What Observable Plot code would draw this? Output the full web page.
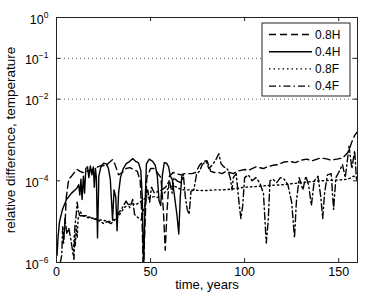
<!DOCTYPE html>
<html><head><meta charset="utf-8">
<script src="https://cdn.jsdelivr.net/npm/d3@7"></script>
<script src="https://cdn.jsdelivr.net/npm/@observablehq/plot@0.6"></script>
<style>
body{margin:0;background:#fff}
svg{font-family:"Liberation Sans",Arial,Helvetica,sans-serif}
</style>
</head><body><div id="chart"></div><script>
// series names (legend order)
const seriesNames = ["0.8H", "0.4H", "0.8F", "0.4F"];
// [time (years), relative difference]
const s08H = [[3.5,3e-6],[4.5,8e-6],[5.2,4e-5],[6.5,1.1e-4],[8,1.3e-4],[9.5,1.6e-4],[11,1.9e-4],[12.5,1.7e-4],[14,1.6e-4],[16,1.7e-4],[18,1.8e-4],[20,2e-4],[22,2.2e-4],[24,2.4e-4],[26,2.3e-4],[28,2.8e-4],[29.8,3.3e-4],[31,2.6e-4],[33,1.4e-4],[35,1.6e-4],[37,2e-4],[39,2.1e-4],[41,1.9e-4],[43,1.7e-4],[44.5,1e-4],[45.5,1e-5],[46.2,5e-7],[47,8e-6],[48,1.2e-4],[50,2e-4],[52,2e-4],[54,1.5e-4],[55.5,1.2e-4],[56.8,2e-5],[57.8,2e-6],[58.8,2e-5],[60,1.3e-4],[62,1.6e-4],[64,1.5e-4],[66,1.4e-4],[68,1.5e-4],[70,1.5e-4],[72,1.5e-4],[74,1.6e-4],[76,2.4e-4],[78,3e-4],[80,3.1e-4],[82,1.7e-4],[84,1.6e-4],[86,1.6e-4],[88,1.5e-4],[90,1.7e-4],[92,1.6e-4],[94,1.5e-4],[96,1.7e-4],[98,1.8e-4],[100,1.9e-4],[102,1.8e-4],[104,2e-4],[106,2.2e-4],[108,2.1e-4],[110,2e-4],[112,2.2e-4],[115,2.4e-4],[118,2.5e-4],[121,2.9e-4],[124,3e-4],[127,2.8e-4],[130,3.2e-4],[133,3.4e-4],[136,3.1e-4],[140,3.6e-4],[143,3.5e-4],[146,3.2e-4],[149,3.4e-4],[152,3.6e-4],[155,5e-4],[157,9e-4],[158.5,1.3e-3],[160,1.6e-3]];
const s04H = [[0.3,1.5e-6],[0.8,4e-6],[1.6,1e-5],[3.2,2e-5],[5.3,3.5e-5],[8,5e-5],[10.7,6.5e-5],[11.8,8e-5],[12.4,4.5e-5],[13,1.1e-4],[13.6,3.5e-5],[14.3,1.3e-4],[14.9,5e-5],[15.6,2e-4],[16.5,2.2e-4],[17.2,1.2e-4],[18,2.3e-4],[18.8,1.4e-4],[19.6,2.2e-4],[20.1,7e-5],[20.7,2e-4],[21.2,1.2e-4],[21.8,4e-6],[22.5,1.3e-4],[23.5,2.1e-4],[25,2.7e-4],[26.5,2.6e-4],[27.6,2e-4],[28.6,1.1e-4],[29.8,1.1e-5],[30.6,6e-5],[31.5,4e-5],[32.2,6e-6],[33,5e-5],[34,1.2e-4],[35.5,2e-4],[37,2.6e-4],[38.5,2.9e-4],[40.5,3.5e-4],[42,3e-4],[43.5,2.8e-4],[44.8,1.8e-4],[45.6,4e-5],[46.3,7e-7],[47,2e-5],[47.8,2.6e-4],[49.3,3.4e-4],[51.1,3e-4],[52.5,2.4e-4],[53.6,1.3e-4],[54.5,3.3e-5],[55.4,2.5e-5],[56.3,1.4e-4],[57.3,2.8e-4],[58.5,2.7e-4],[59.6,2.2e-4],[60.5,1.3e-4],[61.5,1.1e-4],[62.8,4e-5],[64,1.5e-5],[65,5e-6],[65.8,4e-5],[66.6,1.3e-4],[67.5,1.4e-4]];
const s08F = [[9,1.5e-6],[9.5,5e-6],[10,2.5e-6],[10.5,8e-6],[11,4e-6],[11.5,1.2e-5],[12.5,1.8e-5],[14,1.4e-5],[16,1.3e-5],[18,1.2e-5],[20,1.25e-5],[22,1.1e-5],[24,1.1e-5],[26,1.05e-5],[28,1e-5],[30,1.1e-5],[32,1.2e-5],[34,1.6e-5],[36,2.2e-5],[38,2.6e-5],[40,2.8e-5],[42,2.6e-5],[44,2.9e-5],[46,3.5e-5],[48,3.8e-5],[50,4e-5],[52,4.1e-5],[54,3.9e-5],[56,4.2e-5],[58,5.5e-5],[60,7e-5],[62,7.5e-5],[64,7e-5],[66,6.2e-5],[68,6e-5],[72,6e-5],[76,5.8e-5],[80,5.8e-5],[84,6e-5],[88,6e-5],[92,6.2e-5],[96,6.5e-5],[100,7e-5],[105,7.2e-5],[110,7.5e-5],[115,7.8e-5],[120,8e-5],[125,8.5e-5],[130,9e-5],[135,9.5e-5],[140,1e-4],[145,1.02e-4],[150,1.05e-4],[155,1.1e-4],[158,1.3e-4],[160,1.15e-4]];
const s04F = [[2,1e-6],[2.8,1.5e-6],[3.3,8e-6],[3.8,3e-6],[4.5,1.2e-5],[5.5,5e-6],[6.5,7e-6],[7.5,4e-6],[8.5,2e-6],[9.3,1.2e-6],[9.8,8e-6],[10.5,1.5e-5],[11,3e-5],[11.6,1.8e-5],[12.5,1.4e-5],[16,1.4e-5],[19,1.2e-5],[22,1.1e-5],[25,9e-6],[27,1e-5],[29,9e-6],[31,1.1e-5],[33,1.6e-5],[35,2.2e-5],[37,3.2e-5],[39,2.2e-5],[40.5,3.5e-5],[41.5,1.5e-5],[43,1.3e-5],[45,1.1e-5],[47,2.5e-5],[48.5,6e-5],[49.5,3e-5],[50.5,7e-5],[52,5e-5],[54,5.5e-5],[56,6e-5],[58,7e-5],[60,1e-4],[61.5,5e-5],[62.5,1.2e-4],[64,1e-4],[66,9e-5],[67.5,1.3e-4],[68.5,4e-5],[69.5,2e-5],[70.5,1.5e-5],[71.5,5.5e-5],[73,6e-5],[74.5,1.5e-4],[76,1.7e-4],[77.5,2.5e-4],[79.5,3e-4],[81,2e-4],[83,2.5e-4],[85,3.5e-4],[86.3,4.6e-4],[87.5,2.6e-4],[89,2.2e-4],[91,1.9e-4],[92.5,1.1e-4],[93.3,6e-5],[94,1.2e-4],[95.5,1.5e-4],[97,3e-5],[98,1.2e-5],[99,2.5e-5],[100,1.2e-4],[102,1.4e-4],[104,1e-4],[106,1.2e-4],[108,9e-5],[110,5e-5],[111.5,3e-6],[112.5,1e-5],[113.5,1e-4],[115,1.1e-4],[117,9e-5],[119,1.2e-4],[121,1.1e-4],[123,8e-5],[125,3e-5],[126.5,4e-6],[127.5,3e-5],[129,1.2e-4],[131,6e-5],[132.5,1.3e-4],[134,8e-5],[135.5,2.5e-5],[137,1e-4],[139,1.3e-4],[140.5,4e-5],[141.5,1.2e-5],[142.5,5e-5],[144,1.4e-4],[146,1.5e-4],[147.3,2e-5],[148.5,1.2e-4],[150,1.6e-4],[152,2.5e-4],[153.5,1.2e-4],[155.5,7e-4],[157,2e-4],[158.5,5.5e-4],[159.5,1e-4],[160,1.3e-4]];
const xTicks = [0, 50, 100, 150];
const yTicks = [1e-6, 1e-4, 1e-2, 1e-1, 1];
const yTickLabels = ["10^−6", "10^−4", "10^−2", "10^−1", "10^0"];
const refLines = [1e-1, 1e-2];
const xLabel = "time, years";
const yLabel = "relative difference, temperature";

const seriesData = [s08H, s04H, s08F, s04F];
const dashes = {"0.8H": "7,4", "0.4H": null, "0.8F": "1.5,3", "0.4F": "7,3,1.5,3"};
const table = seriesNames.flatMap((name, i) => seriesData[i].map(([t, v]) => ({name, t, v})));

const lineMarks = seriesNames.map(name => Plot.line(table.filter(d => d.name === name), {
  x: "t", y: "v", stroke: "#000", strokeWidth: 1.4,
  strokeDasharray: dashes[name], clip: true
}));

const chart = Plot.plot({
  width: 367, height: 302,
  marginLeft: 56, marginRight: 10, marginTop: 17, marginBottom: 40,
  style: {fontSize: "12px", fontFamily: '"Liberation Sans", Arial, Helvetica, sans-serif', background: "#fff", color: "#000"},
  x: {domain: [0, 160]},
  y: {type: "log", domain: [1e-6, 1]},
  marks: [
    Plot.ruleY(refLines, {stroke: "#666", strokeDasharray: "1,3", strokeWidth: 1}),
    ...lineMarks,
    Plot.frame({stroke: "#222", strokeWidth: 1}),
    Plot.tickY(yTicks, {y: d => d, insetRight: 297, stroke: "#222"}),
    Plot.tickY(yTicks, {y: d => d, insetLeft: 297, stroke: "#222"}),
    Plot.tickX(xTicks, {x: d => d, insetTop: 241, stroke: "#222"}),
    Plot.tickX(xTicks, {x: d => d, insetBottom: 241, stroke: "#222"}),
    Plot.axisX({ticks: xTicks, tickSize: 0, tickPadding: 5, label: null, fontSize: 12.5}),
    Plot.axisY({ticks: yTicks, tickSize: 0, tickPadding: 8, label: null, dy: 2, fontSize: 12.5,
      tickFormat: d => yTickLabels[yTicks.indexOf(d)]}),
    Plot.text([xLabel], {frameAnchor: "bottom", dy: 22, lineAnchor: "middle", textAnchor: "middle", fontSize: 13}),
    Plot.text([yLabel], {frameAnchor: "left", dx: -46, rotate: -90, lineAnchor: "middle", textAnchor: "middle", fontSize: 13.5})
  ]
});

const svg = d3.select(chart);
svg.selectAll('g[aria-label="y-axis tick label"] text').each(function() {
  const parts = this.textContent.split("^");
  const sel = d3.select(this);
  sel.text(parts[0]);
  sel.append("tspan").attr("dy", "-6").attr("font-size", "8.5px").text(parts[1]);
});

// legend
const lg = svg.append("g").attr("class", "legend").attr("text-anchor", "start");
lg.append("rect").attr("x", 262).attr("y", 23).attr("width", 88).attr("height", 73)
  .attr("fill", "#fff").attr("stroke", "#222");
seriesNames.forEach((name, i) => {
  const y = 34.5 + i * 17.2;
  lg.append("line").attr("x1", 269).attr("x2", 312).attr("y1", y).attr("y2", y)
    .attr("stroke", "#000").attr("stroke-width", 1.4)
    .attr("stroke-dasharray", dashes[name]);
  lg.append("text").attr("x", 315).attr("y", y).attr("dy", "0.35em")
    .attr("text-anchor", "start")
    .attr("font-size", "12px").attr("fill", "#000").text(name);
});

document.getElementById("chart").appendChild(chart);
</script></body></html>
